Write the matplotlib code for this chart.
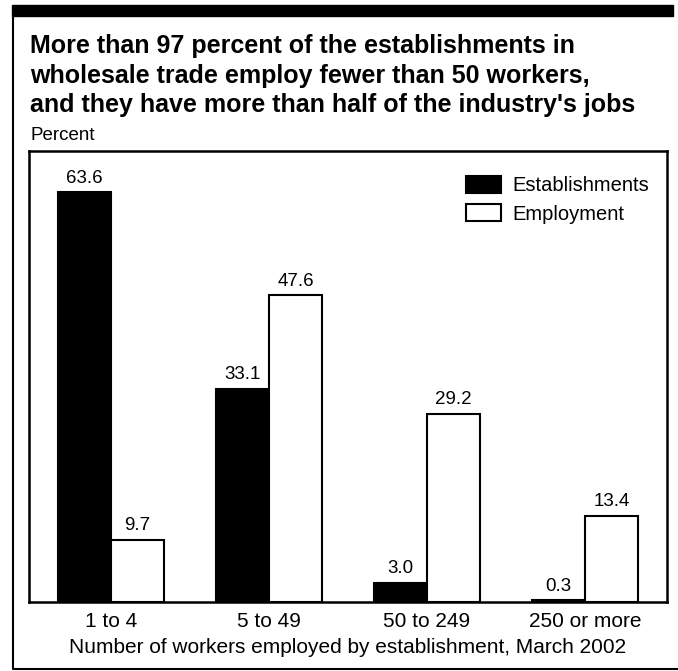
import matplotlib.pyplot as plt
import numpy as np
from matplotlib.patches import Rectangle, Patch
from matplotlib.lines import Line2D

plt.rcParams['font.family'] = ['Liberation Sans', 'DejaVu Sans']

categories = ['1 to 4', '5 to 49', '50 to 249', '250 or more']
establishments = [63.6, 33.1, 3.0, 0.3]
employment = [9.7, 47.6, 29.2, 13.4]

W, H = 678, 671
fig = plt.figure(figsize=(W / 100, H / 100), dpi=100)

# outer frame: thick top bar, left and bottom lines
fig.patches.append(Rectangle((12 / W, 1 - 16 / H), 661 / W, 11 / H,
                             transform=fig.transFigure, color='black'))
fig.lines.append(Line2D([13 / W, 13 / W, 1], [1 - 16 / H, 1 - 669 / H, 1 - 669 / H],
                        transform=fig.transFigure, color='black', lw=1.5))

title_lines = ["More than 97 percent of the establishments in",
               "wholesale trade employ fewer than 50 workers,",
               "and they have more than half of the industry's jobs"]
for i, line in enumerate(title_lines):
    fig.text(30 / W, 1 - (53 + 29.5 * i) / H, line,
             fontsize=18, fontweight='bold', va='baseline', ha='left')
fig.text(30 / W, 1 - 140 / H, 'Percent', fontsize=13.5, va='baseline', ha='left')

ax = fig.add_axes([29 / W, 69 / H, 638 / W, 451 / H])
x = np.arange(len(categories))
w = 0.335
b1 = ax.bar(x - w / 2, establishments, w, color='black', edgecolor='black', lw=1.5)
b2 = ax.bar(x + w / 2, employment, w, color='white', edgecolor='black', lw=1.5)

for bars, vals in ((b1, establishments), (b2, employment)):
    for r, v in zip(bars, vals):
        ax.annotate(f'{v:.1f}', (r.get_x() + r.get_width() / 2, v),
                    xytext=(0, 4), textcoords='offset points',
                    ha='center', va='bottom', fontsize=13.5)

ax.set_xlim(-0.52, 3.52)
ax.set_ylim(0, 70)
ax.set_yticks([])
ax.set_xticks(x)
ax.set_xticklabels(categories, fontsize=15)
ax.tick_params(axis='x', length=0, pad=7)
ax.set_xlabel('Number of workers employed by establishment, March 2002', fontsize=15, labelpad=5)
for s in ax.spines.values():
    s.set_linewidth(1.8)

handles = [Patch(facecolor='black', edgecolor='black', lw=1.5, label='Establishments'),
           Patch(facecolor='white', edgecolor='black', lw=1.5, label='Employment')]
ax.legend(handles=handles, loc='upper right', bbox_to_anchor=(1.0, 0.985), frameon=False,
          fontsize=14.5, handlelength=1.75, handleheight=0.9, handletextpad=0.55,
          labelspacing=0.45)

fig.savefig('out.png', dpi=100)
